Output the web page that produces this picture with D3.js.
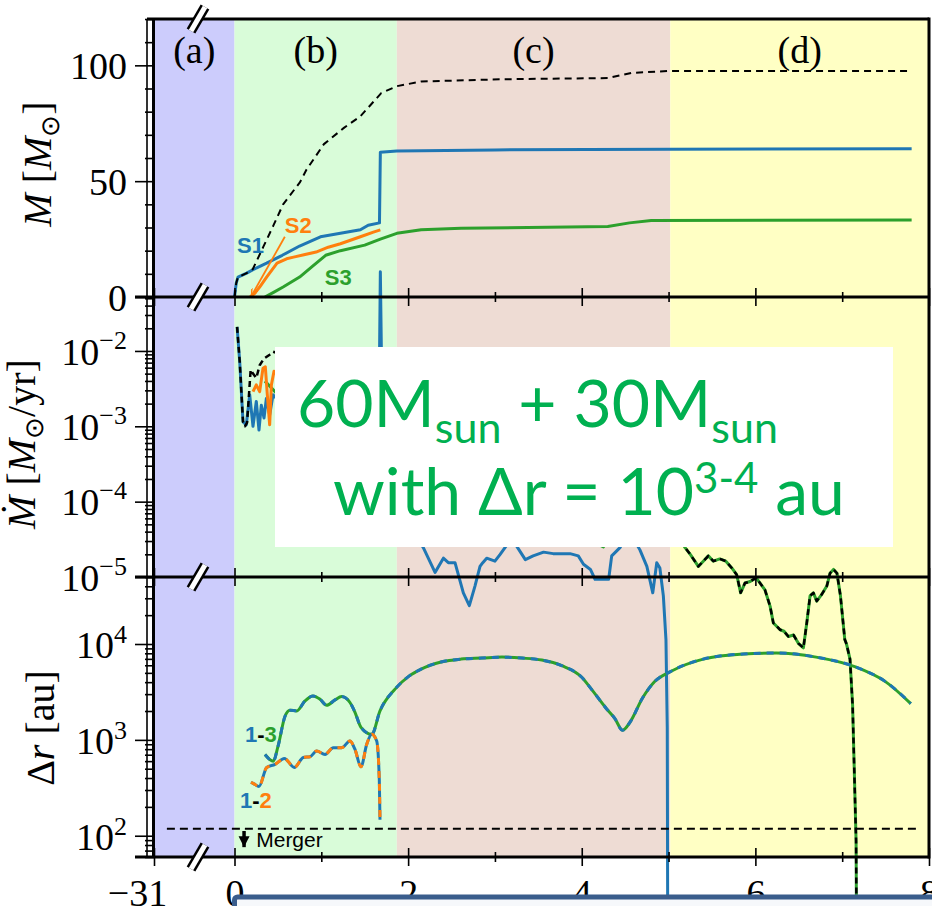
<!DOCTYPE html>
<html>
<head>
<meta charset="utf-8">
<script src="https://cdn.jsdelivr.net/npm/d3@7"></script>
<style>
body{margin:0;background:#fff}
svg{display:block}
</style>
</head>
<body>
<svg></svg>
<script>
const WIDTH = 932, HEIGHT = 906
const LEFT = 154, RIGHT = 929
const TOP = 19, SEP1 = 297, SEP2 = 577, BOTTOM = 857
const SERIF = '"Liberation Serif","Times New Roman",serif'
const SANS = '"Liberation Sans",Arial,sans-serif'
const BLUE = '#1f77b4', ORANGE = '#ff7f0e', GREEN = '#2ca02c'

// regions (time in kyr)
const regionNames = ['(a)', '(b)', '(c)', '(d)']
const regionEdges = [0, 1.87, 5.02, 8]
const regionColors = ['#ccccfc', '#d9fcd9', '#eedcd4', '#ffffc4']

// mass [Msun] vs t
const massS1 = [[0,0],[0.02,6],[0.04,8.6],[0.14,10.3],[0.25,12.5],[0.37,14.6],[0.55,18],[0.75,22],[0.99,26],[1.22,27.5],[1.45,29],[1.54,31],[1.67,32],[1.68,62.5],[1.87,63],[3,63.5],[5,63.8],[7.8,64]]
const massS2 = [[0.18,0],[0.23,1.5],[0.29,4.3],[0.37,8.6],[0.49,14.6],[0.6,16.5],[0.68,17.2],[0.8,18.2],[0.94,19.4],[1.08,21.5],[1.22,23],[1.45,26],[1.6,28],[1.68,29]]
const massS3 = [[0.35,0],[0.45,2],[0.56,4.3],[0.75,8.6],[0.89,13],[1.05,18],[1.22,20],[1.5,22.4],[1.68,25],[1.87,27.5],[2.15,29],[2.61,29.7],[4.3,30.4],[4.55,32],[4.8,33],[7.8,33.2]]
const massTotal = [[0,0],[0.02,6],[0.04,8.6],[0.14,10.3],[0.21,12],[0.33,21.5],[0.45,31],[0.56,40],[0.755,49.6],[0.83,55],[1.03,66],[1.26,73],[1.45,78],[1.69,88],[1.87,91],[2.15,93],[3.08,94],[4.3,94.5],[4.57,96.7],[5.03,97.6],[7.8,97.6]]

// accretion rate, log10 [Msun/yr] vs t
const mdotS1 = [[0.03,-1.68],[0.06,-2.14],[0.098,-2.94],[0.136,-2.98],[0.175,-2.58],[0.213,-3.0],[0.251,-2.67],[0.282,-3.05],[0.309,-2.72],[0.34,-2.89],[0.367,-2.63],[0.405,-2.85],[0.444,-2.58],
  [0.7,-2.9],[1.0,-3.1],[1.3,-3.2],[1.66,-3.3],[1.68,-0.95],[1.71,-3.6],[1.95,-4.2],
  [2.175,-4.61],[2.31,-4.94],[2.406,-4.75],[2.463,-4.81],[2.54,-4.81],[2.636,-5.21],[2.705,-5.38],[2.77,-5.12],[2.828,-4.86],[2.86,-4.81],[2.905,-4.75],[3.0,-4.79],[3.06,-4.7],[3.128,-4.59],[3.19,-4.45],[3.25,-4.59],[3.35,-4.77],[3.44,-4.72],[3.56,-4.67],[3.67,-4.69],[3.865,-4.69],[3.96,-4.72],[4.02,-4.83],[4.1,-4.9],[4.153,-5.03],[4.25,-5.03],[4.31,-5.03],[4.345,-4.72],[4.38,-4.68],[4.44,-4.61],[4.55,-4.4],[4.67,-4.64],[4.75,-4.86],[4.818,-5.21],[4.864,-4.81],[4.9,-4.88],[4.94,-5.25],[4.97,-5.83],[4.985,-7],[4.995,-12]]
const mdotS2 = [[0.213,-2.54],[0.251,-2.45],[0.29,-2.54],[0.328,-2.23],[0.355,-2.21],[0.378,-2.58],[0.405,-2.98],[0.425,-2.45],[0.455,-2.27],[0.7,-2.6],[1.0,-2.8],[1.3,-2.9],[1.66,-3.0]]
const mdotS3 = [[0.35,-2.4],[0.6,-2.7],[1.0,-2.9],[1.4,-3.1],[1.7,-3.3],[2.0,-3.7],[3.0,-4.2],[4.0,-4.45],[4.25,-4.6],[4.4,-3.9],[4.7,-4.1],[5.0,-4.35],[5.1,-4.45],
  [5.19,-4.61],[5.25,-4.70],[5.343,-4.86],[5.4,-4.79],[5.458,-4.72],[5.516,-4.79],[5.59,-4.76],[5.66,-4.79],[5.728,-4.88],[5.785,-4.97],[5.83,-5.21],[5.88,-5.08],[5.94,-5.06],[6.01,-5.01],[6.11,-5.17],[6.17,-5.39],[6.207,-5.61],[6.285,-5.70],[6.33,-5.72],[6.38,-5.79],[6.44,-5.77],[6.495,-5.88],[6.553,-5.94],[6.592,-5.61],[6.63,-5.25],[6.668,-5.21],[6.707,-5.32],[6.765,-5.23],[6.823,-5.12],[6.86,-4.95],[6.9,-4.9],[6.94,-4.95],[6.98,-5.25],[7.03,-5.83],[7.05,-5.89],[7.09,-6.09],[7.12,-6.7],[7.16,-8.5],[7.175,-12]]
const mdotTotal = [[0.03,-1.68],[0.06,-2.14],[0.098,-2.94],[0.12,-3.0],[0.145,-2.95],[0.186,-2.25],[0.213,-2.3],[0.251,-2.36],[0.29,-2.19],[0.34,-2.1],[0.405,-2.05],[0.444,-2.01],[0.7,-2.1],[1.0,-2.2],[1.3,-2.3],[1.66,-2.4],[2.0,-3.4],[3.0,-3.9],[4.0,-4.1],[4.5,-3.8],[5.0,-4.3],[5.1,-4.45],
  [5.19,-4.61],[5.25,-4.70],[5.343,-4.86],[5.4,-4.79],[5.458,-4.72],[5.516,-4.79],[5.59,-4.76],[5.66,-4.79],[5.728,-4.88],[5.785,-4.97],[5.83,-5.21],[5.88,-5.08],[5.94,-5.06],[6.01,-5.01],[6.11,-5.17],[6.17,-5.39],[6.207,-5.61],[6.285,-5.70],[6.33,-5.72],[6.38,-5.79],[6.44,-5.77],[6.495,-5.88],[6.553,-5.94],[6.592,-5.61],[6.63,-5.25],[6.668,-5.21],[6.707,-5.32],[6.765,-5.23],[6.823,-5.12],[6.86,-4.95],[6.9,-4.9],[6.94,-4.95],[6.98,-5.25],[7.03,-5.83],[7.05,-5.89],[7.09,-6.09],[7.12,-6.7],[7.16,-8.5],[7.175,-12]]

// separation [au] vs t
const sep12 = [[0.19,361],[0.23,345],[0.282,326],[0.371,515],[0.467,554],[0.574,640],[0.689,515],[0.793,656],[0.87,667],[0.947,764],[1.043,705],[1.138,828],[1.235,828],[1.33,971],[1.388,794],[1.457,524],[1.523,898],[1.581,1142],[1.638,971],[1.668,385],[1.676,147]]
const sep13 = [[0.351,705],[0.447,600],[0.501,855],[0.582,1762],[0.639,2037],[0.717,2004],[0.812,2548],[0.904,2875],[0.985,2655],[1.062,2296],[1.158,2612],[1.235,2834],[1.33,2453],[1.388,1940],[1.457,1352],[1.581,1142],[1.676,2004],[1.849,3384],[2.01,4620],[2.15,5480],[2.38,6490],[2.61,6960],[2.85,7130],[3.08,7300],[3.31,7130],[3.54,6800],[3.77,5940],[4.0,4500],[4.1,3490],[4.28,2140],[4.38,1680],[4.47,1260],[4.56,1550],[4.7,2730],[4.84,4060],[5.03,5200],[5.4,6960],[5.86,7860],[6.24,8050],[6.7,7300],[7.16,5740],[7.49,4100],[7.79,2390]]
const mergerSep = 118
const mergerRange = [-30.84, 7.9]

// ticks
const tMajor = [0, 2, 4, 6, 8], tMinor = [1, 3, 5, 7]
const massMajor = [0, 50, 100], massMinor = [10, 20, 30, 40, 60, 70, 80, 90, 110, 120]
const mdotMajor = [1e-5, 1e-4, 1e-3, 1e-2], mdotExp = ['−5', '−4', '−3', '−2']
const sepMajor = [1e2, 1e3, 1e4], sepExp = ['2', '3', '4']
const logMinor = (lo, hi) => {
  const out = []
  for (let e = -6; e <= 5; e++) for (let k = 2; k <= 9; k++) {
    const v = k * Math.pow(10, e)
    if (v >= lo && v <= hi) out.push(v)
  }
  return out
}

const svg = d3.select('svg').attr('width', WIDTH).attr('height', HEIGHT)

const x = d3.scaleLinear().domain([0, 8]).range([234.5, RIGHT])
const xa = d3.scaleLinear().domain([-31, -30]).range([LEFT, 234.5])
const yM = d3.scaleLinear().domain([0, 120]).range([SEP1, TOP])
const yD = d3.scaleLog().domain([1e-5, 0.052]).range([SEP2, SEP1])
const yR = d3.scaleLog().domain([60, 5e4]).range([BOTTOM, SEP2])

// backgrounds
svg.append('rect').attr('x', xa(-31)).attr('y', TOP).attr('width', x(0) - xa(-31)).attr('height', BOTTOM - TOP).attr('fill', regionColors[0])
for (let i = 0; i < 3; i++) {
  svg.append('rect')
    .attr('x', x(regionEdges[i])).attr('y', TOP)
    .attr('width', x(regionEdges[i + 1]) - x(regionEdges[i]))
    .attr('height', BOTTOM - TOP)
    .attr('fill', regionColors[i + 1])
}
const regionCenters = [(xa(-31) + x(0)) / 2, ...d3.range(3).map(i => (x(regionEdges[i]) + x(regionEdges[i + 1])) / 2)]
svg.append('g').selectAll('text').data(regionNames).enter().append('text')
  .attr('x', (d, i) => regionCenters[i]).attr('y', 63)
  .attr('text-anchor', 'middle').attr('font-family', SERIF).attr('font-size', 38)
  .text(d => d)

const lineOf = (ys, log) => d3.line()
  .x(d => x(d[0]))
  .y(d => ys(log ? Math.pow(10, d[1]) : d[1]))

const path = (data, gen, color, width, dash) => svg.append('path')
  .datum(data).attr('d', gen)
  .attr('fill', 'none').attr('stroke', color).attr('stroke-width', width)
  .attr('stroke-dasharray', dash || null)
  .attr('stroke-linejoin', 'round')

// top panel: mass
const mLine = lineOf(yM, false)
path(massS3, mLine, GREEN, 3)
path(massS2, mLine, ORANGE, 3)
path(massS1, mLine, BLUE, 3)
path(massTotal, mLine, '#000', 2, '7,5')

// middle panel: accretion rate
const dLine = lineOf(yD, true)
path(mdotS3, dLine, GREEN, 3)
path(mdotS1, dLine, BLUE, 3)
path(mdotS2, dLine, ORANGE, 3)
path(mdotTotal, dLine, '#000', 2.5, '6,4')

// bottom panel: separation
const rLine = d3.line().x(d => x(d[0])).y(d => yR(d[1])).curve(d3.curveMonotoneX)
path(sep13, rLine, GREEN, 3)
path(sep13, rLine, BLUE, 3, '7,6')
path(sep12, rLine, BLUE, 3)
path(sep12, rLine, ORANGE, 3, '7,6')
svg.append('line')
  .attr('x1', xa(mergerRange[0])).attr('x2', x(mergerRange[1]))
  .attr('y1', yR(mergerSep)).attr('y2', yR(mergerSep))
  .attr('stroke', '#000').attr('stroke-width', 2).attr('stroke-dasharray', '8,5')

// annotations
const label = (t, v, ys, parts) => {
  const tx = svg.append('text').attr('x', x(t)).attr('y', ys(v))
    .attr('font-family', SANS).attr('font-weight', 'bold').attr('font-size', 22)
  parts.forEach(p => tx.append('tspan').attr('fill', p[1]).text(p[0]))
}
label(0.03, 19, yM, [['S1', BLUE]])
label(0.58, 27.5, yM, [['S2', ORANGE]])
label(1.04, 5, yM, [['S3', GREEN]])
label(0.12, 950, yR, [['1', BLUE], ['-', '#000'], ['3', GREEN]])
label(0.063, 195, yR, [['1', BLUE], ['-', '#000'], ['2', ORANGE]])

const defs = svg.append('defs')
defs.append('marker').attr('id', 'ohead').attr('viewBox', '0 0 10 10')
  .attr('refX', 9).attr('refY', 5).attr('markerWidth', 7).attr('markerHeight', 7)
  .attr('orient', 'auto').attr('markerUnits', 'userSpaceOnUse')
  .append('path').attr('d', 'M0,0L10,5L0,10').attr('fill', 'none').attr('stroke', ORANGE).attr('stroke-width', 2)
svg.append('line')
  .attr('x1', x(0.58)).attr('y1', yM(26)).attr('x2', x(0.2)).attr('y2', yM(0.8))
  .attr('stroke', ORANGE).attr('stroke-width', 1.8).attr('marker-end', 'url(#ohead)')

defs.append('marker').attr('id', 'khead').attr('viewBox', '0 0 10 10')
  .attr('refX', 5).attr('refY', 10).attr('markerWidth', 12).attr('markerHeight', 11)
  .attr('orient', 0).attr('markerUnits', 'userSpaceOnUse')
  .append('path').attr('d', 'M0,0L10,0L5,10Z').attr('fill', '#000')
svg.append('line')
  .attr('x1', x(0.11)).attr('y1', yR(112)).attr('x2', x(0.11)).attr('y2', yR(76))
  .attr('stroke', '#000').attr('stroke-width', 3.5).attr('marker-end', 'url(#khead)')
svg.append('text').attr('x', x(0.25)).attr('y', yR(76))
  .attr('font-family', SANS).attr('font-size', 21).text('Merger')

// spines
const spine = (x1, y1, x2, y2, w) => svg.append('line')
  .attr('x1', x1).attr('y1', y1).attr('x2', x2).attr('y2', y2)
  .attr('stroke', '#000').attr('stroke-width', w)
spine(147, TOP, 147, BOTTOM, 1.6)
spine(LEFT - 0.5, TOP, LEFT - 0.5, BOTTOM, 3)
spine(RIGHT, TOP - 1.5, RIGHT, BOTTOM + 1.5, 3)
spine(147, TOP, RIGHT, TOP, 3)
;[SEP1, SEP2, BOTTOM].forEach(yy => spine(135, yy, RIGHT, yy, 3.2))

// x ticks on every horizontal spine
;[SEP1, SEP2, BOTTOM].forEach(yy => {
  svg.append('g').attr('transform', `translate(0,${yy - 9})`)
    .call(d3.axisBottom(x).tickValues(tMajor).tickSize(18).tickFormat(''))
  svg.append('g').attr('transform', `translate(0,${yy - 5})`)
    .call(d3.axisBottom(x).tickValues(tMinor).tickSize(10).tickFormat(''))
  svg.append('g').attr('transform', `translate(0,${yy - 9})`)
    .call(d3.axisBottom(xa).tickValues([-31]).tickSize(18).tickFormat(''))
})

// x labels
svg.append('g').attr('transform', `translate(0,${BOTTOM})`)
  .call(d3.axisBottom(x).tickValues(tMajor).tickSize(0).tickFormat(d3.format('d')))
svg.append('g').attr('transform', `translate(-17,${BOTTOM})`)
  .call(d3.axisBottom(xa).tickValues([-31]).tickSize(0).tickFormat(d => '−' + Math.abs(d)))

// y axes
const leftAxis = (scale, majors, minors, labeler) => {
  svg.append('g').attr('transform', `translate(${LEFT},0)`)
    .call(d3.axisLeft(scale).tickValues(minors).tickSize(9).tickFormat(''))
  const g = svg.append('g').attr('transform', `translate(${LEFT},0)`)
    .call(d3.axisLeft(scale).tickValues(majors).tickSize(19).tickPadding(8).tickFormat(''))
  g.selectAll('.tick text').each(function (d, i) { labeler(d3.select(this), d, i) })
}
leftAxis(yM, massMajor, massMinor, (t, d) => t.text(d))
leftAxis(yD, mdotMajor, logMinor(1e-5, 0.052), (t, d, i) => {
  t.text('10').append('tspan').attr('dy', -16).attr('font-size', 26).text(mdotExp[i])
})
leftAxis(yR, sepMajor, logMinor(60, 5e4), (t, d, i) => {
  t.text('10').append('tspan').attr('dy', -15).attr('font-size', 26).text(sepExp[i])
})

svg.selectAll('.domain').remove()
svg.selectAll('.tick line').attr('stroke', '#000').attr('stroke-width', 1.6)
svg.selectAll('.tick text').attr('font-family', SERIF).attr('font-size', 38).attr('fill', '#000')
svg.selectAll('g').filter(function () { return this.getAttribute('text-anchor') === 'end' })
  .selectAll('.tick text').attr('dy', '0.35em')
svg.selectAll('g').filter(function () { return this.getAttribute('text-anchor') === 'middle' })
  .selectAll('.tick text').attr('dy', null).attr('y', 49)

// axis break marks
;[TOP, SEP1, SEP2, BOTTOM].forEach(yy => {
  spine(198 - 7, yy + 12, 198 + 7, yy - 12, 10).attr('stroke-linecap', 'butt')
  spine(198 - 7, yy + 12, 198 + 7, yy - 12, 5).attr('stroke', '#fff').attr('stroke-linecap', 'butt')
})

// y titles
const yTitle = (cx, cy, parts) => {
  const t = svg.append('text').attr('transform', `translate(${cx},${cy}) rotate(-90)`)
    .attr('text-anchor', 'middle').attr('font-family', SERIF).attr('font-size', 40)
  parts.forEach(p => {
    const s = t.append('tspan').text(p.s)
    if (p.i) s.attr('font-style', 'italic')
    if (p.dy) s.attr('dy', p.dy)
    if (p.fs) s.attr('font-size', p.fs)
  })
}
yTitle(51, 164, [{ s: 'M', i: 1 }, { s: ' [' }, { s: 'M', i: 1 }, { s: '⊙', fs: 26, dy: 8 }, { s: ']', dy: -8 }])
yTitle(35, 444, [{ s: 'Ṁ', i: 1 }, { s: ' [' }, { s: 'M', i: 1 }, { s: '⊙', fs: 26, dy: 8 }, { s: '/yr]', dy: -8 }])
yTitle(54, 728, [{ s: 'Δ' }, { s: 'r', i: 1 }, { s: ' [au]' }])

// overlay text box
const box = svg.append('g')
box.append('rect').attr('x', 275).attr('y', 347).attr('width', 618).attr('height', 200).attr('fill', '#fff')
const big = (xx, yy, parts) => {
  const t = box.append('text').attr('x', xx).attr('y', yy)
    .attr('font-family', 'Lato,"Open Sans",sans-serif').attr('fill', '#00b050').attr('font-size', 66)
  parts.forEach(p => {
    const s = t.append('tspan').text(p.s)
    if (p.dy) s.attr('dy', p.dy)
    if (p.fs) s.attr('font-size', p.fs)
  })
}
big(297, 427, [{ s: '60M' }, { s: 'sun', fs: 43, dy: 16 }, { s: ' + 30M', dy: -16 }, { s: 'sun', fs: 43, dy: 16 }])
big(333, 515, [{ s: 'with Δr = 10' }, { s: '3-4', fs: 42, dy: -22 }, { s: ' au', dy: 22 }])

// slide frame at the bottom
svg.append('rect').attr('x', 234.5).attr('y', 897).attr('width', 760).attr('height', 60).attr('rx', 3)
  .attr('fill', '#f6f8fb').attr('stroke', '#3a5d8c').attr('stroke-width', 5)
</script>
</body>
</html>
